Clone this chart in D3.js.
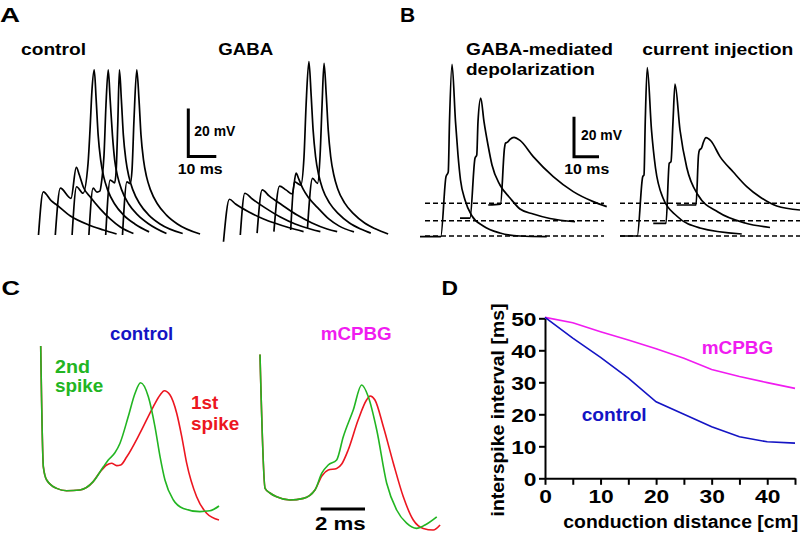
<!DOCTYPE html>
<html>
<head>
<meta charset="utf-8">
<script src="https://cdn.jsdelivr.net/npm/d3@7"></script>
<style>
  body { margin: 0; background: #fff; }
  svg { display: block; font-family: "Liberation Sans", Arial, sans-serif; }
</style>
</head>
<body>
<svg id="fig" width="800" height="534"></svg>
<script>
// ---- panel A: stacked traces, [time ms from trace start, mV above baseline]
let aOffsets = [0, 6, 12, 18, 24, 30];
let aControl = [
  [[0,0],[1.7,18],[4.6,14.2],[6.1,12.9],[11.4,7.9],[17.9,4.2],[23.2,2.1],[27.9,0.4]],
  [[0,0],[1.8,19.5],[5.6,15.3],[7.5,28.2],[8.6,25],[10,20],[12.5,15.8],[16.1,10.8],[19.6,6.7],[23.2,3.3],[27.9,0.6]],
  [[0,0],[1.6,20.1],[3.9,17.4],[5.7,29.9],[6.4,43.8],[7.1,60.4],[7.9,68.8],[8.6,56.3],[9.3,41.7],[10.2,31.3],[11.3,24.2],[12.7,18.8],[15.2,12.9],[18.4,8.3],[22.4,4.6],[27.5,1.3]],
  [[0,0],[1.5,19.5],[2.9,17.9],[3.9,18.3],[4.6,22.9],[5.4,33.3],[6.1,54.2],[6.9,68.8],[7.6,56.3],[8.4,41.7],[9.2,31.3],[10.3,24.2],[11.7,18.8],[14.2,12.9],[17.5,8.3],[21.4,4.6],[27.7,0.6]],
  [[0,0],[1.6,22.9],[3.2,21.7],[3.75,27.1],[4.3,45.8],[4.9,68.8],[5.6,56.3],[6.3,41.7],[7.2,31.3],[8.3,24.2],[9.7,18.8],[12.2,12.9],[15.4,8.3],[19.4,4.6],[27.5,0.6]],
  [[0,0],[1.6,22.1],[2.75,21.5],[3.4,27.1],[4.1,47.9],[5.1,68.8],[5.9,56.3],[6.6,41.7],[7.5,31.3],[8.6,24.2],[10,18.8],[12.5,12.9],[15.7,8.3],[19.6,4.6],[27.7,0.4]]
];
let aGaba = [
  [[0,-2.8],[2.1,14.9],[4.3,12.9],[8.9,9.7],[14.3,6.7],[18.5,4.9],[23.2,3.1],[28.6,1.4]],
  [[0,0],[1.6,17.4],[4.3,15],[8.9,11.3],[14.3,7.5],[19.6,4.6],[25,2.5],[28.6,1.4]],
  [[0,0.8],[1.8,18.8],[4.3,16.3],[8.9,12.5],[14.3,8.3],[19.6,5],[25,2.5],[28.6,1.4]],
  [[0,1.4],[2,20.4],[4.3,18.8],[6.6,17.1],[7.9,25.8],[8.9,23.3],[10.4,19.2],[12.5,15.4],[16.1,10.8],[19.6,6.7],[23.2,3.8],[28.6,1.3]],
  [[0,2.1],[1.4,22.1],[3.6,20.8],[4.75,32.5],[5.5,54.2],[6.5,72.2],[7.3,58.3],[8,43.8],[8.9,32.5],[10,25],[11.4,19.2],[13.9,13.3],[17.1,8.8],[21,5],[25,2.5],[28.6,0.8]],
  [[0,2.9],[1.8,23.6],[3.6,21.5],[4.5,33.3],[5.2,54.2],[5.9,71.5],[6.7,58.3],[7.4,43.8],[8.3,32.5],[9.4,25],[10.8,19.2],[13.3,13.3],[16.5,8.8],[20.4,5],[24.4,2.5],[28.8,0.4]]
];

// ---- panel B: [ms from panel start, mV above lowest baseline]
let bBaselines = [0, 7.65, 16.35];
let bGaba = [
  [[0,-0.35],[8.3,-0.35],[10.4,29.7],[11.3,32],[11.8,57.2],[12.8,85.8],[14.2,57.2],[15.2,40.5],[16.2,28],[18,18],[20.8,10],[25.3,5],[32,1.5],[40,0],[50.7,-0.35]],
  [[16,8.9],[20,8.9],[22,38.9],[22.7,40.5],[23.2,57.2],[24.3,68.9],[25.6,57.2],[27.2,45.5],[28.8,35.5],[32,25.5],[36,19],[40,13.5],[45.3,11],[52,8.75],[62,7.15]],
  [[27.3,15.5],[32.2,15.9],[33.8,44],[34.2,46.4],[35,46.9],[36,48.3],[37.6,49.3],[40,47.8],[45.3,39.7],[53.3,29.7],[61.3,22.2],[69.3,17.2],[74.7,14.7]]
];
let bCurrent = [
  [[0,0],[6.9,0],[9.1,29.7],[9.6,30.5],[10.1,57.2],[10.9,84.2],[12.6,53],[14.2,34],[17.2,19],[22.7,10],[32,4],[48.7,1]],
  [[13.3,6.35],[18.4,6.35],[19.7,36.4],[20.4,37.2],[21.2,57.2],[22,75.9],[24,53],[26.7,34.25],[31.2,20.5],[39.2,12],[50,6.5],[60,4.25]],
  [[22.7,15.5],[30.4,15.5],[31.4,40.5],[31.8,43],[32.6,43.9],[33.4,47],[34.4,49.2],[36.4,47.5],[40,39.7],[45.3,32],[50.7,24.7],[56,19.5],[62.7,15],[72,13]]
];

// ---- panel C: [ms, relative mV]
let cCtrlGreen = [[0,36],[0.12,5.8],[0.27,2.5],[0.72,0.4],[1.17,-0.2],[1.77,0],[2.37,2.1],[2.83,5.8],[3.05,7.5],[3.35,9.3],[3.58,11.7],[3.95,18.3],[4.26,24.2],[4.51,26.8],[4.86,23.3],[5.16,15.8],[5.39,8.3],[5.61,2.5],[5.99,-2.5],[6.44,-4.6],[7.19,-5.4],[7.64,-5.2],[8.05,-4]];
let cCtrlRed = [[0,36],[0.12,5.8],[0.27,2.5],[0.72,0.4],[1.17,-0.2],[1.77,0],[2.37,2.1],[2.68,4.5],[2.98,6.25],[3.2,6.7],[3.43,6.1],[3.61,6.25],[3.88,8.25],[4.48,14.2],[5.08,20.8],[5.39,23.75],[5.58,24.8],[5.84,23.75],[6.14,19.2],[6.37,13.3],[6.59,6.7],[7.04,-1.7],[7.49,-5.8],[8.05,-7.5]];
let cMcpbgGreen = [[0,33.9],[0.23,0.4],[0.45,-0.75],[0.75,-1.7],[1.35,-2.5],[1.96,-2.1],[2.48,0],[2.79,4.2],[3.08,6.25],[3.46,7.5],[3.76,13.3],[4.21,20],[4.59,26.25],[4.89,23.3],[5.27,15],[5.72,1.7],[6.17,-5],[6.62,-8.3],[7.07,-9.6],[7.45,-8.75],[7.98,-6.7]];
let cMcpbgRed = [[0,33.9],[0.23,0.4],[0.45,-0.75],[0.75,-1.7],[1.35,-2.5],[1.96,-2.1],[2.48,0],[2.79,3.5],[3.08,5],[3.46,5.4],[3.69,6.5],[3.98,10],[4.43,17.5],[4.81,22.5],[4.97,23.5],[5.19,22.5],[5.57,15.8],[6.02,6.7],[6.47,-1.7],[6.92,-7.5],[7.37,-9.6],[7.82,-10],[8.13,-8.75]];

// ---- panel D
let dDistance = [0, 5, 10, 15, 20, 25, 30, 35, 40, 45];
let dControl = [50.3, 43.8, 37.8, 31.3, 23.9, 20, 16.1, 13, 11.4, 11];
let dMcpbg = [50.3, 48.6, 45.8, 43.2, 40.5, 37.5, 34, 31.8, 29.9, 28.1];
let dXTicks = [0, 5, 10, 15, 20, 25, 30, 35, 40, 45];
let dYTicks = [0, 10, 20, 30, 40, 50];

let green = "#22b522", red = "#ec1620", blue = "#1414c4", magenta = "#f01cf0";

let svg = d3.select("#fig");

function label(sel, x, y, str, size, fill, width) {
  let t = sel.append("text")
    .attr("x", x)
    .attr("y", y)
    .text(str)
    .style("font-size", size + "px")
    .style("font-weight", "bold")
    .style("fill", fill || "#000");
  if (width) t.attr("textLength", width).attr("lengthAdjust", "spacingAndGlyphs");
  return t;
}

function drawTraces(g, traces, offsets, x, y, color, w) {
  traces.forEach(function(tr, i) {
    let off = offsets ? offsets[i] : 0;
    let line = d3.line()
      .x(d => x(d[0] + off))
      .y(d => y(d[1]))
      .curve(d3.curveMonotoneX);
    g.append("path")
      .attr("d", line(tr))
      .attr("fill", "none")
      .attr("stroke", color)
      .attr("stroke-width", w)
      .attr("stroke-linejoin", "round");
  });
}

// L-shaped scale bar, corner at (cx, cy)
function scaleBar(g, cx, cy, hLen, vLen) {
  let p = "M" + cx + "," + (cy - vLen) + "V" + cy + (hLen ? "H" + (cx + hLen) : "");
  if (!vLen) p = "M" + cx + "," + cy + "H" + (cx + hLen);
  g.append("path")
    .attr("d", p)
    .attr("fill", "none")
    .attr("stroke", "#000")
    .attr("stroke-width", 3);
}

// panel letters
label(svg, 0, 22, "A", 21, "#000", 20);
label(svg, 400, 22, "B", 21);
label(svg, 1.5, 295, "C", 21, "#000", 18.5);
label(svg, 441.5, 295, "D", 21, "#000", 16.5);

// ===== panel A
let xAc = d3.scaleLinear().domain([0, 60]).range([38.5, 38.5 + 168]);
let xAg = d3.scaleLinear().domain([0, 60]).range([223.5, 223.5 + 168]);
let yA = d3.scaleLinear().domain([0, 80]).range([235, 235 - 192]);
let gA = svg.append("g");
drawTraces(gA, aControl, aOffsets, xAc, yA, "#000", 1.7);
drawTraces(gA, aGaba, aOffsets, xAg, yA, "#000", 1.7);
scaleBar(gA, 188.3, 156.5, xAc(10) - xAc(0), yA(0) - yA(20));
label(gA, 21, 54.5, "control", 17, "#000", 65);
label(gA, 218.3, 54.5, "GABA", 17, "#000", 55);
label(gA, 194.3, 135.5, "20 mV", 15.5, "#000", 41);
label(gA, 177.7, 173.5, "10 ms", 15.5, "#000", 45);

// ===== panel B
let xBl = d3.scaleLinear().domain([0, 80]).range([420, 620]);
let xBr = d3.scaleLinear().domain([0, 72]).range([620, 800]);
let yB = d3.scaleLinear().domain([0, 100]).range([236, 36]);
let gB = svg.append("g");
bBaselines.forEach(function(b) {
  gB.append("line")
    .attr("x1", xBl(2)).attr("x2", xBl(73.6))
    .attr("y1", yB(b)).attr("y2", yB(b))
    .attr("stroke", "#000").attr("stroke-width", 1.5)
    .attr("stroke-dasharray", "5,3");
  gB.append("line")
    .attr("x1", xBr(0)).attr("x2", xBr(72))
    .attr("y1", yB(b)).attr("y2", yB(b))
    .attr("stroke", "#000").attr("stroke-width", 1.5)
    .attr("stroke-dasharray", "5,3");
});
drawTraces(gB, bGaba, null, xBl, yB, "#000", 1.7);
drawTraces(gB, bCurrent, null, xBr, yB, "#000", 1.7);
scaleBar(gB, 574, 156.7, xBl(10) - xBl(0), yB(0) - yB(20));
label(gB, 466, 54.5, "GABA-mediated", 17, "#000", 147);
label(gB, 466, 74.5, "depolarization", 17, "#000", 129);
label(gB, 642.3, 54.5, "current injection", 17, "#000", 151);
label(gB, 581, 140, "20 mV", 15.5, "#000", 41);
label(gB, 564.3, 174, "10 ms", 15.5, "#000", 45);

// ===== panel C
let xCl = d3.scaleLinear().domain([0, 10]).range([40.7, 40.7 + 221.5]);
let xCr = d3.scaleLinear().domain([0, 10]).range([260, 260 + 221.5]);
let yC = d3.scaleLinear().domain([0, 40]).range([490, 330]);
let gC = svg.append("g");
drawTraces(gC, [cCtrlRed], null, xCl, yC, red, 1.6);
drawTraces(gC, [cCtrlGreen], null, xCl, yC, green, 1.6);
drawTraces(gC, [cMcpbgRed], null, xCr, yC, red, 1.6);
drawTraces(gC, [cMcpbgGreen], null, xCr, yC, green, 1.6);
scaleBar(gC, 320.7, 509, xCl(2) - xCl(0), 0);
label(gC, 110, 340, "control", 17.5, blue, 63.3);
label(gC, 320.7, 340, "mCPBG", 17.5, magenta, 71);
label(gC, 55, 372.7, "2nd", 17.5, green, 35);
label(gC, 55, 392, "spike", 17.5, green, 48.3);
label(gC, 191, 409.3, "1st", 17.5, red, 27.3);
label(gC, 191, 430, "spike", 17.5, red, 48.3);
label(gC, 315, 530, "2 ms", 19, "#000", 50.7);

// ===== panel D
let xD = d3.scaleLinear().domain([0, 45]).range([545, 795]);
let yD = d3.scaleLinear().domain([0, 50]).range([478.3, 318.3]);
let gD = svg.append("g");

let gx = gD.append("g")
  .attr("transform", "translate(0," + yD(0) + ")")
  .call(d3.axisBottom(xD).tickValues(dXTicks).tickSize(6.5).tickSizeOuter(0).tickPadding(5)
    .tickFormat(d => d % 10 === 0 ? d : ""));
let gy = gD.append("g")
  .attr("transform", "translate(" + xD(0) + ",0)")
  .call(d3.axisLeft(yD).tickValues(dYTicks).tickSize(6).tickSizeOuter(0));

[gx, gy].forEach(function(a) {
  a.select(".domain").attr("stroke-width", 2);
  a.selectAll(".tick line").attr("stroke-width", 2);
  a.selectAll(".tick text")
    .style("font-size", "19px")
    .style("font-weight", "bold")
    .style("font-family", "'Liberation Sans', Arial, sans-serif")
    .attr("transform", "scale(1.2,1)");
});
gy.selectAll(".tick text").attr("x", -8.5 / 1.2).attr("dy", "0.36em");

let dLine = d3.line().x((d, i) => xD(dDistance[i])).y(d => yD(d));
gD.append("path").attr("d", dLine(dMcpbg))
  .attr("fill", "none").attr("stroke", magenta).attr("stroke-width", 1.6);
gD.append("path").attr("d", dLine(dControl))
  .attr("fill", "none").attr("stroke", blue).attr("stroke-width", 1.6);

label(gD, 701.7, 354, "mCPBG", 17.5, magenta, 71.6);
label(gD, 581.7, 420.7, "control", 17.5, blue, 65);
label(gD, 563.3, 528.3, "conduction distance [cm]", 17.5, "#000", 235);
label(gD, 0, 0, "interspike interval [ms]", 17.5, "#000", 213)
  .attr("transform", "translate(504,410) rotate(-90)")
  .style("text-anchor", "middle");
</script>
</body>
</html>
